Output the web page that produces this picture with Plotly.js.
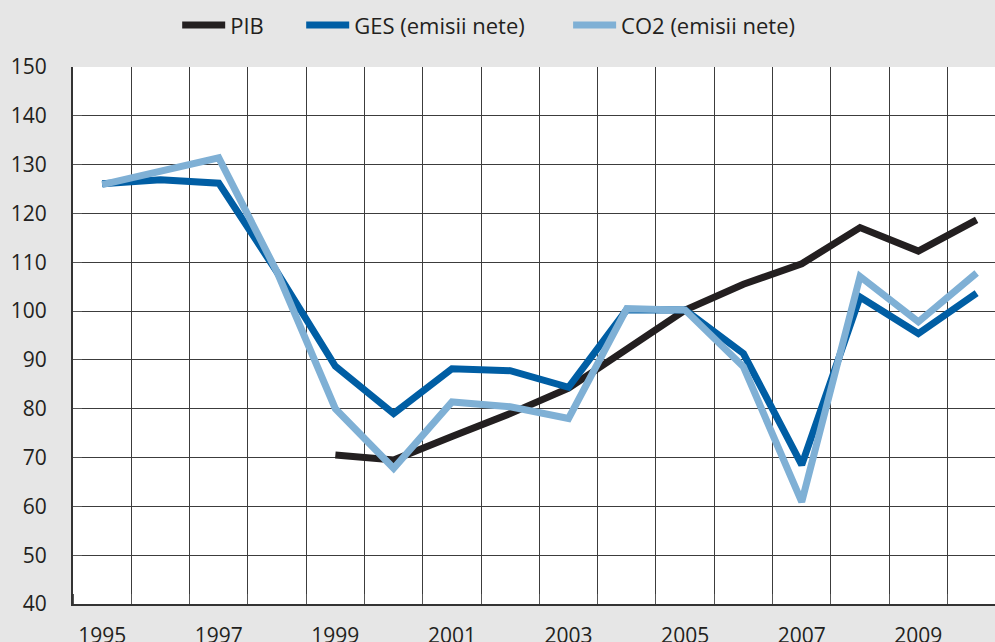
<!DOCTYPE html>
<html>
<head>
<meta charset="utf-8">
<script src="https://cdn.plot.ly/plotly-3.0.1.min.js"></script>
<style>html,body{margin:0;padding:0;background:#e6e6e6;}#chart{width:995px;height:642px;}</style>
</head>
<body>
<div id="chart"></div>
<script>
var years = [1995,1996,1997,1998,1999,2000,2001,2002,2003,2004,2005,2006,2007,2008,2009,2010];
var pibYears = [1999,2000,2001,2002,2003,2004,2005,2006,2007,2008,2009,2010];
var pib = [70.5,69.5,74.3,79.0,84.2,92.0,100.2,105.5,109.7,117.1,112.3,118.7];
var ges = [126.1,126.9,126.2,108.0,88.7,79.0,88.2,87.8,84.4,100.3,100.2,91.3,68.5,102.9,95.4,103.7];
var co2 = [125.9,128.8,131.4,108.0,80.0,67.8,81.4,80.4,78.0,100.5,100.2,88.6,60.9,107.1,97.8,107.8];
var xTickVals = [1995,1997,1999,2001,2003,2005,2007,2009];
var xTickText = ['1995','1997','1999','2001','2003','2005','2007','2009'];
var gridYears = [1994.5,1995.5,1996.5,1997.5,1998.5,1999.5,2000.5,2001.5,2002.5,2003.5,2004.5,2005.5,2006.5,2007.5,2008.5,2009.5,2010.5];
var yTickVals = [40,50,60,70,80,90,100,110,120,130,140,150];
var names = ['PIB','GES (emisii nete)','CO2 (emisii nete)'];

var txt = '#231f20';
var traces = [
  {x: pibYears, y: pib, name: names[0], type:'scatter', mode:'lines', line:{color:'#231f20', width:7}, legend:'legend'},
  {x: years, y: ges, name: names[1], type:'scatter', mode:'lines', line:{color:'#005ea4', width:7}, legend:'legend2'},
  {x: years, y: co2, name: names[2], type:'scatter', mode:'lines', line:{color:'#7fb0d5', width:7}, legend:'legend3'}
];
function leg(xp){
  return {orientation:'h', x:xp, xanchor:'left', y:1.078, yanchor:'middle',
          font:{size:22, color:txt}, bgcolor:'rgba(0,0,0,0)', itemwidth:43, borderwidth:0};
}
var layout = {
  width: 995, height: 642,
  paper_bgcolor: '#e6e6e6', plot_bgcolor: '#ffffff',
  margin: {l:73, r:0, t:67, b:38, pad:0},
  font: {family: '"Open Sans", "Noto Sans", sans-serif', color: txt, size: 21},
  showlegend: true,
  legend: leg(0.113),
  legend2: leg(0.2475),
  legend3: leg(0.537),
  xaxis: {
    range: [1994.5, 2010.315], tickmode:'array', tickvals: xTickVals, ticktext: xTickText,
    showgrid:false, zeroline:false, ticks:'', ticklabelstandoff: 12,
    showline:true, linecolor:'#333333', linewidth:2, mirror:false,
    minor: {tickmode:'array', tickvals: gridYears, showgrid:true, gridcolor:'#3c3c3c', gridwidth:1,
            ticks:'inside', ticklen:10, tickcolor:'#555555', tickwidth:1}
  },
  yaxis: {
    range: [40, 150], tickmode:'array', tickvals: yTickVals,
    showgrid:true, gridcolor:'#3c3c3c', gridwidth:1, zeroline:false,
    ticks:'inside', ticklen:9, tickcolor:'#555555', tickwidth:1, ticklabelstandoff: 20,
    showline:true, linecolor:'#333333', linewidth:2
  }
};
Plotly.newPlot('chart', traces, layout, {displayModeBar:false, staticPlot:true});
</script>
</body>
</html>
